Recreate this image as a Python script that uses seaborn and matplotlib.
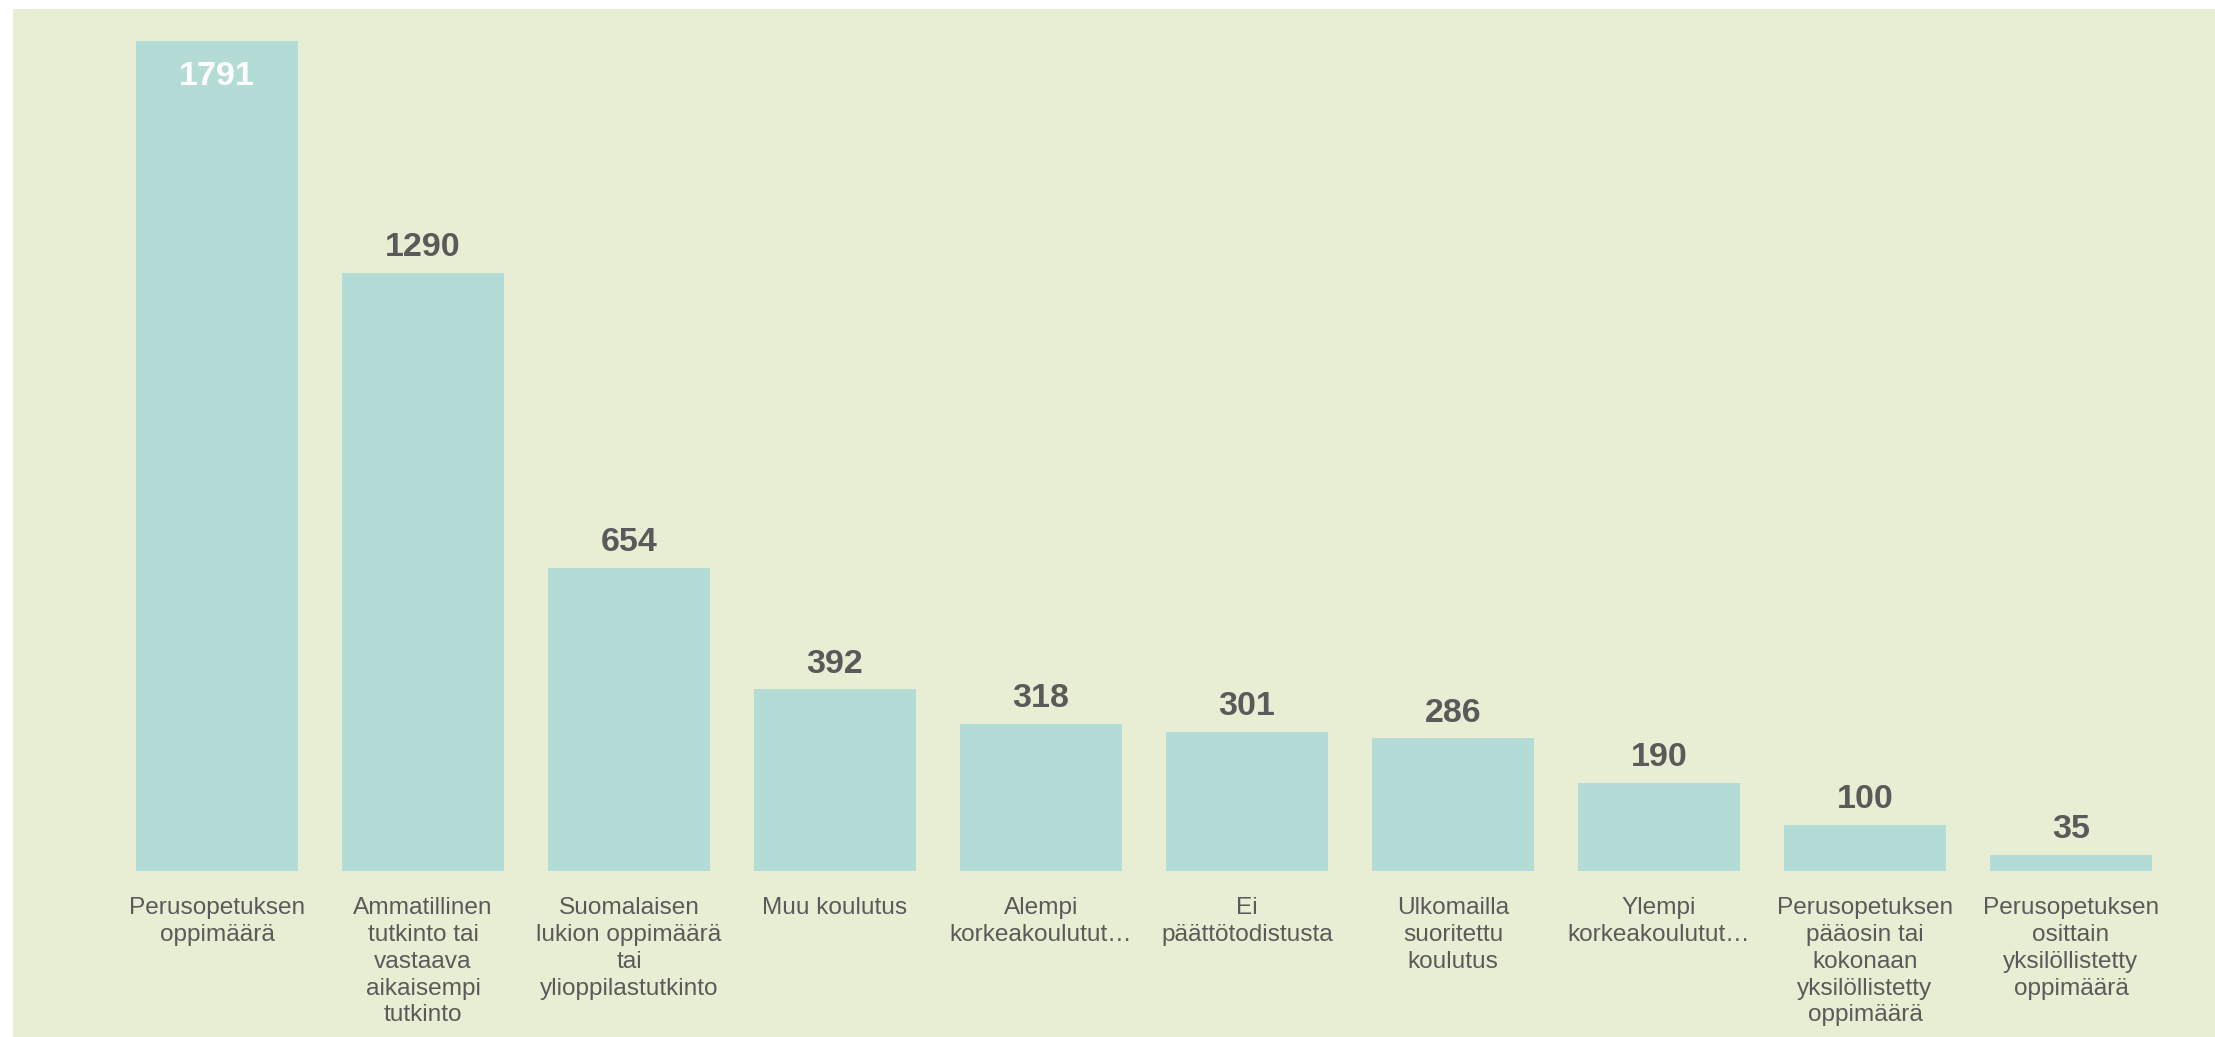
import matplotlib
matplotlib.use("Agg")
import matplotlib.pyplot as plt
import seaborn as sns
import pandas as pd
from matplotlib.patches import Rectangle

# Data
categories = [
    "Perusopetuksen\noppimäärä",
    "Ammatillinen\ntutkinto tai\nvastaava\naikaisempi\ntutkinto",
    "Suomalaisen\nlukion oppimäärä\ntai\nylioppilastutkinto",
    "Muu koulutus",
    "Alempi\nkorkeakoulutut…",
    "Ei\npäättötodistusta",
    "Ulkomailla\nsuoritettu\nkoulutus",
    "Ylempi\nkorkeakoulutut…",
    "Perusopetuksen\npääosin tai\nkokonaan\nyksilöllistetty\noppimäärä",
    "Perusopetuksen\nosittain\nyksilöllistetty\noppimäärä",
]
values = [1791, 1290, 654, 392, 318, 301, 286, 190, 100, 35]

panel_color = "#E8EED3"
bar_color = "#B3DCD7"
text_color = "#5A5A5A"

sns.set_style("white")
plt.rcParams['font.family'] = ['Liberation Sans', 'DejaVu Sans']

W, H = 2215, 1037
fig = plt.figure(figsize=(W / 100, H / 100), dpi=100)
fig.patch.set_facecolor("white")

# light green panel behind everything
fig.patches.append(Rectangle((13 / W, 0), 1, (H - 9) / H, transform=fig.transFigure,
                             facecolor=panel_color, edgecolor="none", zorder=-10))

ax = fig.add_axes([13 / W, (H - 871) / H, (W - 13) / W, (871 - 9) / H])
ax.set_facecolor("none")
ax.set_zorder(1)

df = pd.DataFrame({"label": categories, "value": values})
sns.barplot(data=df, x="label", y="value", color=bar_color, saturation=1,
            width=0.786, linewidth=0, ax=ax)

ax.set_xlim(-0.99, 9.699)
ax.set_ylim(0, 1860)

# value labels: first one inside the bar in white, the rest above
bars = ax.containers[0]
outside = ["" if i == 0 else str(v) for i, v in enumerate(values)]
inside = [str(values[0])] + [""] * (len(values) - 1)
ax.bar_label(bars, labels=outside, padding=7, fontsize=24.5, fontweight="bold",
             color=text_color)
ax.bar_label(bars, labels=inside, padding=-37, fontsize=24.5, fontweight="bold",
             color="white")

ax.set_xticks(range(len(categories)))
ax.set_xticklabels(categories, fontsize=17.6, color=text_color, linespacing=1.28,
                   ha="center", multialignment="center")
ax.tick_params(axis="x", length=0, pad=19)
ax.set_yticks([])
ax.set_xlabel("")
ax.set_ylabel("")
sns.despine(ax=ax, left=True, bottom=True)

fig.savefig("out.png", dpi=100, facecolor=fig.get_facecolor())
